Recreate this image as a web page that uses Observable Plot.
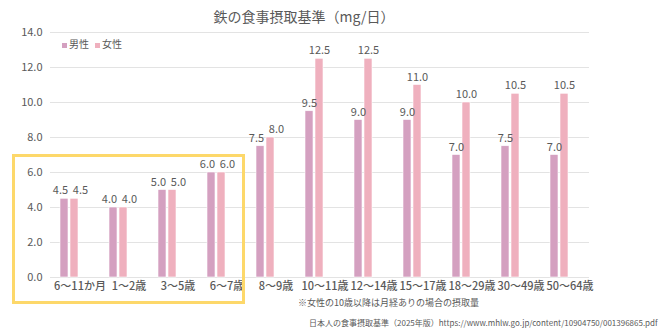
<!DOCTYPE html>
<html>
<head>
<meta charset="utf-8">
<script src="https://cdn.jsdelivr.net/npm/d3@7"></script>
<script src="https://cdn.jsdelivr.net/npm/@observablehq/plot@0.6"></script>
<style>
  html, body { margin: 0; padding: 0; background: #fff; }
  #wrap { position: relative; width: 660px; height: 331px; font-family: "Noto Sans CJK JP", "Noto Sans", sans-serif; color: #595959; }
  #title { position: absolute; left: 0; width: 608px; top: 6px; text-align: center; font-size: 14px; color: #595959; }
  #legend { position: absolute; left: 62px; top: 36px; font-size: 10px; display: flex; gap: 6px; align-items: center; }
  #legend span.sw { display: inline-block; width: 5px; height: 5px; margin-right: 2px; vertical-align: middle; }
  #note { position: absolute; left: 298px; top: 296px; font-size: 9px; color: #595959; }
  #source { position: absolute; left: 309px; top: 317px; font-size: 8px; color: #595959; white-space: nowrap; }
  #box { position: absolute; left: 12px; top: 154px; width: 227px; height: 144px; border: 3px solid #fdd86a; box-sizing: content-box; }
  #chart { position: absolute; left: 0; top: 0; }
</style>
</head>
<body>
<div id="wrap">
  <div id="chart"></div>
  <div id="box"></div>
  <div id="title">鉄の食事摂取基準（mg/日）</div>
  <div id="legend">
    <span><span class="sw" style="background:#d4a0c0"></span>男性</span>
    <span><span class="sw" style="background:#efb0be"></span>女性</span>
  </div>
  <div id="note">※女性の10歳以降は月経ありの場合の摂取量</div>
  <div id="source">日本人の食事摂取基準（2025年版）https://www.mhlw.go.jp/content/10904750/001396865.pdf</div>
</div>
<script>
const categories = ["6〜11か月", "1〜2歳", "3〜5歳", "6〜7歳", "8〜9歳", "10〜11歳", "12〜14歳", "15〜17歳", "18〜29歳", "30〜49歳", "50〜64歳"];
const series = ["男性", "女性"];
const male = [4.5, 4.0, 5.0, 6.0, 7.5, 9.5, 9.0, 9.0, 7.0, 7.5, 7.0];
const female = [4.5, 4.0, 5.0, 6.0, 8.0, 12.5, 12.5, 11.0, 10.0, 10.5, 10.5];
const yTicks = [0, 2, 4, 6, 8, 10, 12, 14];
const colors = ["#d4a0c0", "#efb0be"];

const data = [];
categories.forEach((c, i) => {
  const close = Math.abs(male[i] - female[i]) < 1;
  data.push({category: c, sex: series[0], value: male[i], close});
  data.push({category: c, sex: series[1], value: female[i], close});
});

const labelOpts = {fx: "category", x: "sex", y: "value", text: d => d.value.toFixed(1), dy: -8, fontSize: 11, fill: "#595959"};

const chart = Plot.plot({
  width: 660,
  height: 331,
  marginLeft: 45,
  marginRight: 67,
  marginTop: 32,
  marginBottom: 54,
  style: {fontFamily: '"Noto Sans CJK JP", "Noto Sans", sans-serif', fontSize: "11px", color: "#595959", background: "transparent"},
  fx: {domain: categories, paddingInner: 0, paddingOuter: 0, label: null},
  x: {domain: series, paddingInner: 0.227, paddingOuter: 1.386, align: 0.33, axis: null},
  y: {domain: [0, 14], label: null},
  color: {domain: series, range: colors},
  marks: [
    Plot.ruleY(yTicks, {stroke: "#e3e3e3", strokeWidth: 1, facetAnchor: null}),
    Plot.axisY(yTicks, {tickFormat: d => d.toFixed(1), tickSize: 0, tickPadding: 8, fontSize: 11, fill: "#595959", label: null, facetAnchor: "left"}),
    Plot.axisFx({tickSize: 0, tickPadding: 5, fontSize: 11, fontWeight: 500, fill: "#595959", dx: 5, anchor: "bottom", label: null}),
    Plot.barY(data, {fx: "category", x: "sex", y: "value", fill: "sex", stroke: "white", strokeWidth: 0.6}),
    Plot.text(data.filter(d => !d.close), labelOpts),
    Plot.text(data.filter(d => d.close && d.sex === series[0]), {...labelOpts, dx: -4}),
    Plot.text(data.filter(d => d.close && d.sex === series[1]), {...labelOpts, dx: 6})
  ]
});
document.getElementById("chart").appendChild(chart);
</script>
</body>
</html>
